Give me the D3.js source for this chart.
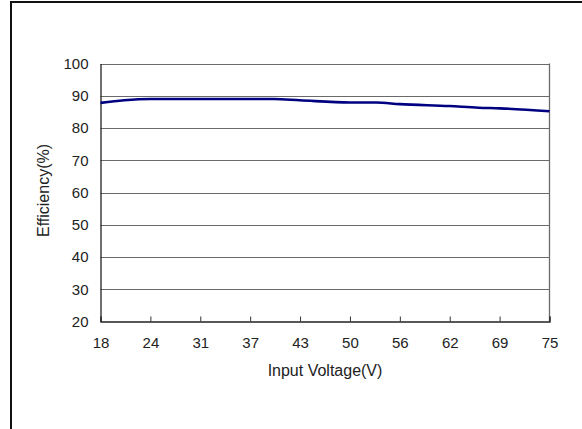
<!DOCTYPE html>
<html>
<head>
<meta charset="utf-8">
<script src="https://cdn.jsdelivr.net/npm/d3@7/dist/d3.min.js"></script>
<style>
  html, body { margin: 0; padding: 0; background: #fff; }
  svg { display: block; font-family: "Liberation Sans", Arial, sans-serif; }
</style>
</head>
<body>
<svg id="chart" width="582" height="429"></svg>
<script>
// ---- data ----
const xTickLabels = ["18", "24", "31", "37", "43", "50", "56", "62", "69", "75"];
const yTicks = [20, 30, 40, 50, 60, 70, 80, 90, 100];
const voltage = [18, 21, 24.3, 30.7, 37, 40, 43.3, 49.7, 53, 56, 62.3, 66, 68.7, 75];
const efficiency = [87.8, 88.6, 89.0, 89.0, 89.0, 89.0, 88.6, 87.9, 87.9, 87.4, 86.8, 86.3, 86.1, 85.2];
const xTitle = "Input Voltage(V)";
const yTitle = "Efficiency(%)";

// ---- layout ----
const svg = d3.select("#chart");
const plot = { left: 100.5, right: 549.5, top: 63.5, bottom: 321.5 };

const x = d3.scaleLinear().domain([18, 75]).range([plot.left, plot.right]);
const xCat = d3.scalePoint().domain(xTickLabels).range([plot.left, plot.right]);
const y = d3.scaleLinear().domain([20, 100]).range([plot.bottom, plot.top]);

// outer frame (top + left)
svg.append("line").attr("x1", 10).attr("x2", 582).attr("y1", 2).attr("y2", 2)
  .attr("stroke", "#111").attr("stroke-width", 2);
svg.append("line").attr("x1", 11).attr("x2", 11).attr("y1", 1).attr("y2", 429)
  .attr("stroke", "#111").attr("stroke-width", 2);

// gridlines
svg.append("g").selectAll("line").data(yTicks.filter(d => d > 20)).join("line")
  .attr("x1", plot.left).attr("x2", plot.right)
  .attr("y1", d => Math.round(y(d)) + 0.5).attr("y2", d => Math.round(y(d)) + 0.5)
  .attr("stroke", "#6a6a6a").attr("stroke-width", 1);

// right border
svg.append("line").attr("x1", plot.right).attr("x2", plot.right)
  .attr("y1", plot.top).attr("y2", plot.bottom)
  .attr("stroke", "#6a6a6a").attr("stroke-width", 1.3);

// y axis
const yAxis = d3.axisLeft(y).tickValues(yTicks).tickSize(0).tickPadding(12).tickFormat(d3.format("d"));
const gy = svg.append("g").attr("transform", `translate(${plot.left},0)`).call(yAxis);
gy.select(".domain").attr("stroke", "#222").attr("stroke-width", 1.3);
gy.selectAll("text").attr("font-size", 15).attr("fill", "#222")
  .attr("font-family", "Liberation Sans, Arial, sans-serif");

// x axis (ticks point inward)
const xAxis = d3.axisBottom(xCat).tickSize(-5).tickPadding(0);
const gx = svg.append("g").attr("transform", `translate(0,${plot.bottom})`).call(xAxis);
gx.select(".domain").attr("stroke", "#222").attr("stroke-width", 1.3);
gx.selectAll(".tick line").attr("stroke", "#333");
gx.selectAll("text").attr("font-size", 15).attr("fill", "#222")
  .attr("font-family", "Liberation Sans, Arial, sans-serif")
  .attr("dy", null).attr("y", 26.5);

// line
const line = d3.line().x((d, i) => x(voltage[i])).y(d => y(d)).curve(d3.curveMonotoneX);
svg.append("path").datum(efficiency)
  .attr("d", line)
  .attr("fill", "none").attr("stroke", "#000080").attr("stroke-width", 2.6);

// titles
svg.append("text").attr("x", (plot.left + plot.right) / 2).attr("y", 376)
  .attr("text-anchor", "middle").attr("font-size", 16).attr("fill", "#222")
  .text(xTitle);
svg.append("text").attr("transform", `translate(49,${(plot.top + plot.bottom) / 2 - 2}) rotate(-90)`)
  .attr("text-anchor", "middle").attr("font-size", 16).attr("fill", "#222")
  .text(yTitle);
</script>
</body>
</html>
